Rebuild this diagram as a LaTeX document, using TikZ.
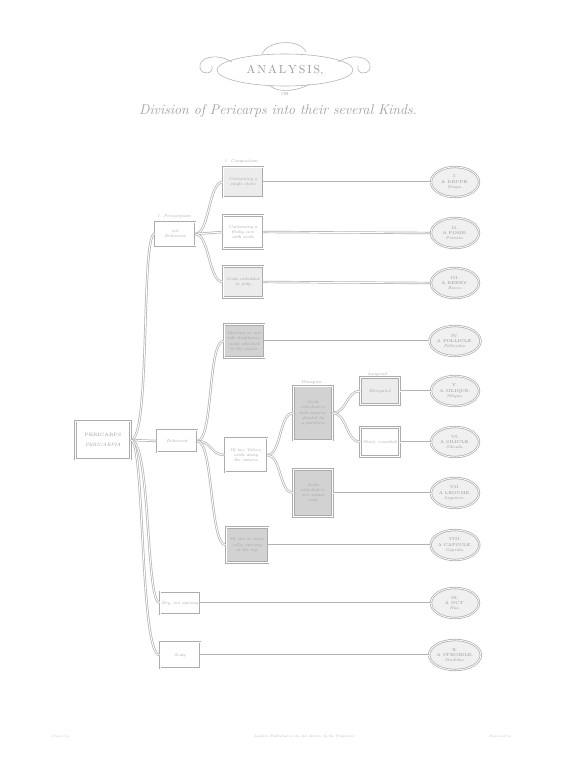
\documentclass[tikz,border=0pt]{standalone}
\usetikzlibrary{shapes.geometric}

\tikzset{
  pbox/.style={draw=gray!65, double=white, double distance=0.7pt, line width=0.6pt,
    fill=white, minimum width=1.2cm, minimum height=0.75cm, inner sep=1pt, align=center,
    font=\fontsize{3.6}{4.4}\selectfont\itshape, text=gray!75},
  pshade/.style={pbox, fill=gray!35},
  kind/.style={ellipse, draw=gray!65, double=white, double distance=0.7pt, line width=0.6pt,
    fill=gray!12, minimum width=1.44cm, minimum height=0.9cm, inner sep=0pt, align=center,
    font=\fontsize{3.6}{4.4}\selectfont, text=gray!85},
  link/.style={draw=gray!60, double=white, double distance=0.8pt, line width=0.6pt},
  over/.style={font=\fontsize{3.6}{4}\selectfont\itshape, text=gray!75, inner sep=0pt},
  flourish/.style={draw=gray!60, line width=0.5pt}
}

\begin{document}
\begin{tikzpicture}[x=0.03cm,y=-0.03cm]
\useasboundingbox (0,0) rectangle (571,760);

% title
\draw[flourish] (285,70) ellipse (68 and 16);
\draw[flourish] (232,62) .. controls (215,52) and (198,58) .. (200,68) .. controls (202,76) and (214,74) .. (212,66);
\draw[flourish] (338,62) .. controls (355,52) and (372,58) .. (370,68) .. controls (368,76) and (356,74) .. (358,66);
\draw[flourish] (262,55) .. controls (266,40) and (300,38) .. (306,52);
\draw[flourish] (270,86) .. controls (280,94) and (300,90) .. (310,84);
\node[font=\normalsize, text=gray!80] (title) at (285,70) {A\,N\,A\,L\,Y\,S\,I\,S,};
\node[font=\tiny\scshape, text=gray!80] (or) at (285,94) {or};
\node[font=\large\itshape, text=gray!75] (sub) at (278,111) {Division of Pericarps into their several Kinds.};

% root
\node[pbox, minimum width=1.65cm, minimum height=1.14cm, font=\fontsize{4}{6}\selectfont, text=gray!80] (root) at (103,440) {PERICARPS\\[2pt]\textit{PERICARPIA}};

% first division
\node[pbox, minimum height=0.7cm] (fleshy) at (175,234) {not\\Dehiscent};
\node[over] at (174,216) {1. Pericarpium};
\node[pbox, minimum height=0.66cm] (opening) at (177,441) {Dehiscent};
\node[pbox, minimum height=0.68cm] (dry) at (180,603) {Dry, not opening};
\node[pbox, minimum height=0.78cm] (scaly) at (180,655) {Scaly};

% second division
\node[pshade, fill=gray!15, minimum height=0.9cm] (stone) at (243,182) {Containing a\\single stone};
\node[over] at (241,161) {1. Compositum};
\node[pbox, minimum height=0.99cm] (core) at (243,232) {Containing a\\fleshy core\\with seeds};
\node[pshade, fill=gray!15, minimum height=0.93cm] (pulp) at (243,282) {Seeds imbedded\\in pulp};
\node[pshade, minimum height=0.99cm] (oneside) at (244,341) {Opening on one\\side lengthwise,\\seeds attached\\to the suture};
\node[pbox, minimum width=1.26cm, minimum height=1.02cm] (valves) at (246,455) {Of two Valves,\\seeds along\\the sutures};
\node[pshade, minimum width=1.26cm, minimum height=1.05cm] (cells) at (247,545) {Of one or more\\cells, opening\\at the top};

% third division
\node[pshade, minimum width=1.17cm, minimum height=1.62cm] (both) at (313,413) {Seeds\\attached to\\both sutures,\\divided by\\a partition};
\node[over] at (312,382) {Dissepim.};
\node[pshade, minimum width=1.17cm, minimum height=1.41cm] (single) at (313,493) {Seeds\\attached to\\one suture\\only};

% fourth division
\node[pshade, fill=gray!15, minimum width=1.17cm, minimum height=0.81cm] (long) at (380,391) {Elongated};
\node[over] at (378,374) {Longitud.};
\node[pbox, minimum width=1.17cm, minimum height=0.87cm] (short) at (380,442) {Short, roundish};

% kinds
\node[kind] (drupe) at (455,182) {I.\\A DRUPE.\\\textit{Drupa.}};
\node[kind] (pome) at (455,233) {II.\\A POME.\\\textit{Pomum.}};
\node[kind] (berry) at (455,283) {III.\\A BERRY.\\\textit{Bacca.}};
\node[kind] (follicle) at (455,341) {IV.\\A FOLLICLE.\\\textit{Folliculus.}};
\node[kind] (silique) at (455,391) {V.\\A SILIQUE.\\\textit{Siliqua.}};
\node[kind] (silicle) at (455,442) {VI.\\A SILICLE.\\\textit{Silicula.}};
\node[kind] (legume) at (455,493) {VII.\\A LEGUME.\\\textit{Legumen.}};
\node[kind] (capsule) at (455,545) {VIII.\\A CAPSULE.\\\textit{Capsula.}};
\node[kind] (nut) at (455,603) {IX.\\A NUT.\\\textit{Nux.}};
\node[kind] (strobile) at (455,655) {X.\\A STROBILE.\\\textit{Strobilus.}};

% branches
\draw[link] (root.east) .. controls +(20,0) and +(-14,0) .. (fleshy.west);
\draw[link] (root.east) -- (opening.west);
\draw[link] (root.east) .. controls +(20,0) and +(-14,0) .. (dry.west);
\draw[link] (root.east) .. controls +(14,0) and +(-20,0) .. (scaly.west);
\draw[link] (fleshy.east) .. controls +(14,0) and +(-14,0) .. (stone.west);
\draw[link] (fleshy.east) -- (core.west);
\draw[link] (fleshy.east) .. controls +(14,0) and +(-14,0) .. (pulp.west);
\draw[link] (opening.east) .. controls +(16,0) and +(-16,0) .. (oneside.west);
\draw[link] (opening.east) .. controls +(14,0) and +(-14,0) .. (valves.west);
\draw[link] (opening.east) .. controls +(16,0) and +(-16,0) .. (cells.west);
\draw[link] (valves.east) .. controls +(14,0) and +(-14,0) .. (both.west);
\draw[link] (valves.east) .. controls +(14,0) and +(-14,0) .. (single.west);
\draw[link] (both.east) .. controls +(14,0) and +(-14,0) .. (long.west);
\draw[link] (both.east) .. controls +(14,0) and +(-14,0) .. (short.west);

% to the kinds
\draw[link] (stone.east) -- (drupe.west);
\draw[link] (core.east) -- (pome.west);
\draw[link] (pulp.east) -- (berry.west);
\draw[link] (oneside.east) -- (follicle.west);
\draw[link] (long.east) -- (silique.west);
\draw[link] (short.east) -- (silicle.west);
\draw[link] (single.east) -- (legume.west);
\draw[link] (cells.east) -- (capsule.west);
\draw[link] (dry.east) -- (nut.west);
\draw[link] (scaly.east) -- (strobile.west);

% imprint
\node[font=\fontsize{3}{3}\selectfont\itshape, text=gray!60] (imprint) at (305,737) {London, Published as the Act directs, by the Proprietor.};
\node[font=\fontsize{3}{3}\selectfont\itshape, text=gray!50] (drawn) at (60,737) {Drawn by};
\node[font=\fontsize{3}{3}\selectfont\itshape, text=gray!50] (engr) at (500,737) {Engraved by};
\end{tikzpicture}
\end{document}
